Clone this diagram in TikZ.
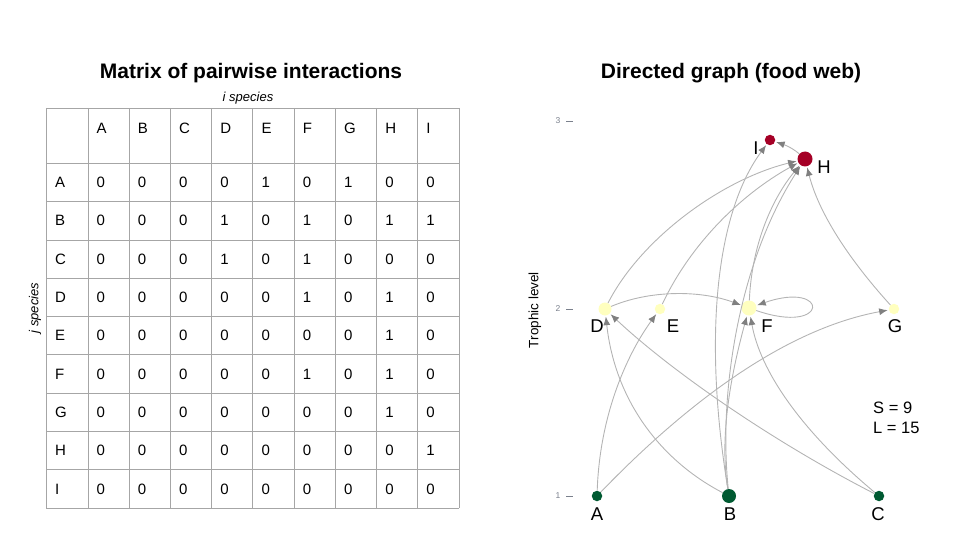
\documentclass[tikz,border=0pt]{standalone}
\usepackage{fontspec}
\setmainfont{Liberation Sans}
\usetikzlibrary{arrows.meta}
\definecolor{gridc}{HTML}{A6A6A6}
\definecolor{edgec}{HTML}{B4B4B4}
\definecolor{tipc}{HTML}{808080}
\definecolor{lowc}{HTML}{005A32}
\definecolor{midc}{HTML}{FFFFBF}
\definecolor{topc}{HTML}{A50026}
\definecolor{tickc}{HTML}{7A808C}
\tikzset{
  title/.style={font=\fontsize{21}{23}\selectfont\bfseries, inner sep=0pt},
  cell/.style={font=\fontsize{15}{17}\selectfont, anchor=west, inner sep=0pt},
  axlab/.style={font=\fontsize{13}{14}\selectfont\itshape, inner sep=0pt},
  sp/.style={circle, inner sep=0pt, draw=none},
  splab/.style={font=\fontsize{18.5}{20}\selectfont, inner sep=0pt},
  tick/.style={font=\fontsize{8.5}{9}\selectfont, text=tickc, inner sep=0pt},
  link/.style={draw=edgec, line width=0.9pt, -{Latex[length=8.5pt,width=7pt,color=tipc]}, shorten >=1pt},
  stat/.style={font=\fontsize{16.5}{18}\selectfont, anchor=west, inner sep=0pt}
}
\begin{document}
\begin{tikzpicture}[x=1pt,y=-1pt]
\useasboundingbox (0,0) rectangle (960,540);
% ---------- titles ----------
\node[title] (t1) at (251,73) {Matrix of pairwise interactions};
\node[title] (t2) at (731,73) {Directed graph (food web)};
\node[axlab] (isp) at (248,98) {i species};
\node[axlab, rotate=90] (jsp) at (35,308) {j species};
% ---------- table grid ----------
\foreach \x in {46,88,129.22,170.44,211.67,252.89,294.11,335.33,376.56,417.78,459}
  \draw[gridc, line width=0.8pt] (\x,108) -- (\x,508);
\foreach \y in {108,163.3,201.6,239.9,278.2,316.5,354.8,393.1,431.4,469.7,508}
  \draw[gridc, line width=0.8pt] (46,\y) -- (459,\y);
% header
\foreach \h [count=\c] in {A,B,C,D,E,F,G,H,I}
  \node[cell] (h\c) at ({88+41.222*(\c-1)+8.5},128.3) {\h};
% rows
\foreach \nm/\vals [count=\r] in {
  A/{0,0,0,0,1,0,1,0,0},
  B/{0,0,0,1,0,1,0,1,1},
  C/{0,0,0,1,0,1,0,0,0},
  D/{0,0,0,0,0,1,0,1,0},
  E/{0,0,0,0,0,0,0,1,0},
  F/{0,0,0,0,0,1,0,1,0},
  G/{0,0,0,0,0,0,0,1,0},
  H/{0,0,0,0,0,0,0,0,1},
  I/{0,0,0,0,0,0,0,0,0}} {
  \node[cell] (r\r) at (55,{163.3+38.3*(\r-0.5)}) {\nm};
  \foreach \v [count=\c] in \vals
    \node[cell] (m\r-\c) at ({88+41.222*(\c-1)+8.5},{163.3+38.3*(\r-0.5)}) {\v};
}
% ---------- graph axis ----------
\node[tick] (k3) at (558,121) {3};
\node[tick] (k2) at (558,309) {2};
\node[tick] (k1) at (558,496) {1};
\foreach \yy in {121,309,496} \draw[tickc, line width=0.7pt] (566,\yy) -- (573,\yy);
\node[font=\fontsize{13.5}{14}\selectfont, rotate=90, inner sep=0pt] (tl) at (535,310) {Trophic level};
% ---------- species ----------
\node[sp, fill=lowc, minimum size=10.5pt] (A) at (597,496) {};
\node[sp, fill=lowc, minimum size=14pt] (B) at (729,496) {};
\node[sp, fill=lowc, minimum size=10.5pt] (C) at (879,496) {};
\node[sp, fill=midc, minimum size=13pt] (D) at (605,309) {};
\node[sp, fill=midc, minimum size=10.5pt] (E) at (660,309) {};
\node[sp, fill=midc, minimum size=15pt] (F) at (749,308) {};
\node[sp, fill=midc, minimum size=10.5pt] (G) at (894,309) {};
\node[sp, fill=topc, minimum size=15pt] (H) at (805,159) {};
\node[sp, fill=topc, minimum size=10.5pt] (I) at (770,140) {};
\node[splab] (lA) at (597,514) {A};
\node[splab] (lB) at (730,514) {B};
\node[splab] (lC) at (878,514) {C};
\node[splab] (lD) at (597,326) {D};
\node[splab] (lE) at (673,326) {E};
\node[splab] (lF) at (767,326) {F};
\node[splab] (lG) at (895,326) {G};
\node[splab] (lH) at (824,167) {H};
\node[splab] (lI) at (756,148) {I};
% ---------- links ----------
\draw[link] (A) .. controls (600,410) and (630,350) .. (E);
\draw[link] (A) .. controls (680,410) and (780,330) .. (G);
\draw[link] (B) .. controls (660,460) and (615,400) .. (D);
\draw[link] (B) .. controls (718,430) and (735,360) .. (F);
\draw[link] (B) .. controls (718,390) and (740,260) .. (H);
\draw[link] (B) .. controls (702,330) and (718,210) .. (I);
\draw[link] (C) .. controls (770,440) and (670,370) .. (D);
\draw[link] (C) .. controls (800,430) and (760,370) .. (F);
\draw[link] (D) .. controls (650,290) and (700,290) .. (F);
\draw[link] (D) .. controls (640,240) and (720,180) .. (H);
\draw[link] (E) .. controls (690,245) and (740,195) .. (H);
\draw[link] (F) .. controls (830,336) and (830,280) .. (F);
\draw[link] (F) .. controls (752,240) and (775,195) .. (H);
\draw[link] (G) .. controls (845,255) and (818,210) .. (H);
\draw[link] (H) .. controls (795,150) and (788,146) .. (I);
% ---------- stats ----------
\node[stat] (S) at (873,408) {S = 9};
\node[stat] (L) at (873,428) {L = 15};
\end{tikzpicture}
\end{document}
